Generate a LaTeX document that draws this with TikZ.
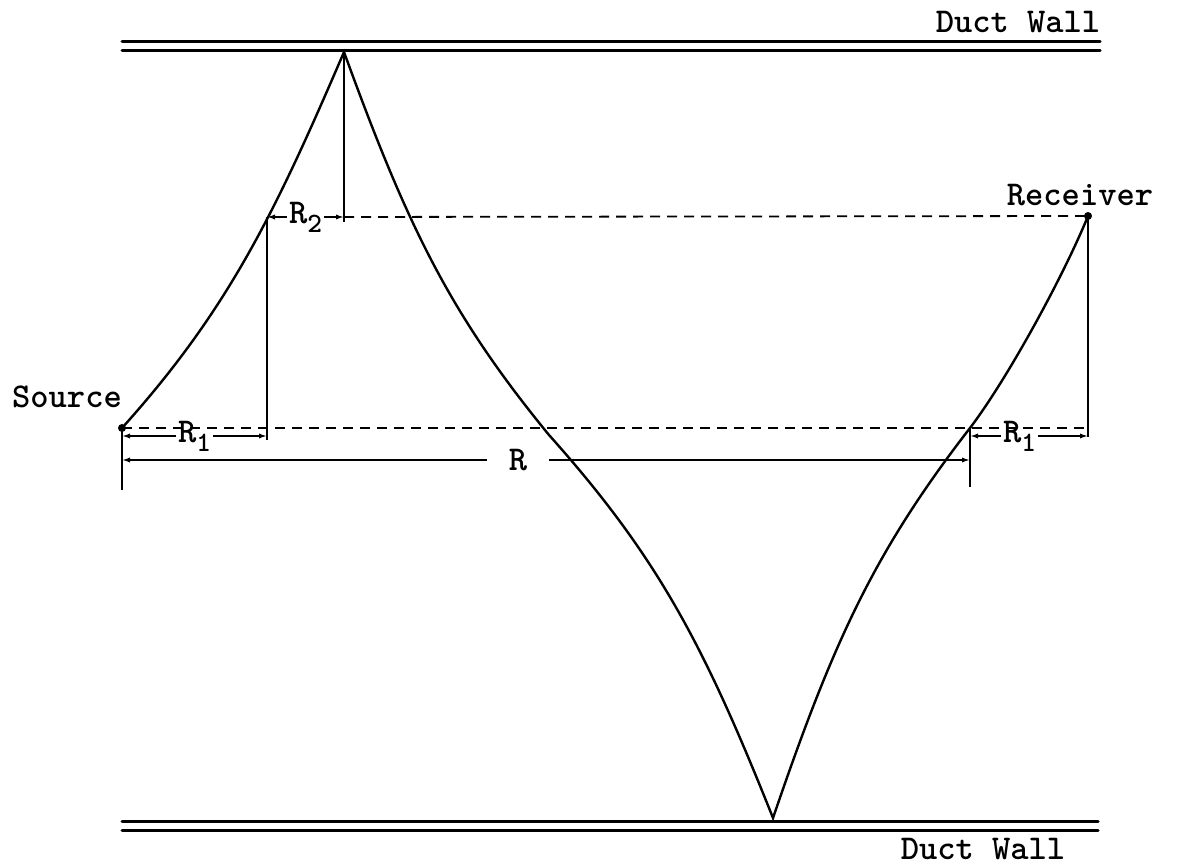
\documentclass[tikz,border=0pt]{standalone}
\usepackage{fontspec}
\usetikzlibrary{arrows.meta}

\tikzset{
  ray/.style={line width=1.2pt},
  wall/.style={line width=1.5pt, line cap=round},
  guide/.style={line width=0.9pt, dash pattern=on 5pt off 3.5pt},
  extline/.style={line width=0.9pt},
  dimline/.style={line width=0.8pt, {Latex[length=4pt,width=2.6pt]}-{Latex[length=4pt,width=2.6pt]}},
  dimlabel/.style={fill=white, inner sep=1pt},
}
\newcommand{\lowidx}[1]{\raisebox{-0.6ex}{\fontsize{14}{14}\selectfont #1}}

\begin{document}
\begin{tikzpicture}[x=0.5pt, y=-0.5pt, font=\ttfamily\bfseries\fontsize{17.4}{20}\selectfont]
\useasboundingbox (0,0) rectangle (1177,865);

% Points on the ray
\coordinate (src) at (122,428);
\coordinate (footL) at (267,217);
\coordinate (apexT) at (344,52);
\coordinate (crossL) at (549,435);
\coordinate (apexB) at (773,818);
\coordinate (crossR) at (970,428);
\coordinate (rcv) at (1088,216);

% Duct walls
\foreach \y in {42,51} {
  \draw[wall] (122,\y) -- (1100,\y);
}
\foreach \y in {821,830} {
  \draw[wall] (122,\y) -- (1098,\y);
}
\node (wallT) at (1018,22) {Duct Wall};
\node (wallB) at (983,849) {Duct Wall};

% Source and receiver
\fill (src) circle (2pt);
\fill (rcv) circle (2pt);
\node (srcText) at (67,397) {Source};
\node (rcvText) at (1080,195) {Receiver};

% Ray path
\draw[ray] (src) .. controls (230,308) and (276,210) .. (apexT)
  .. controls (407,225) and (449,313) .. (crossL)
  .. controls (658,557) and (704,645) .. (apexB)
  .. controls (833,642) and (874,552) .. (crossR)
  .. controls (1008,378) and (1064,275) .. (rcv);

% Extension lines
\draw[extline] (apexT) -- (apexT |- 0,222);
\draw[extline] (footL) -- (footL |- 0,440);
\draw[extline] (src) -- (src |- 0,490);
\draw[extline] (crossR) -- (crossR |- 0,487);
\draw[extline] (rcv) -- (rcv |- 0,437);

% Dimensions
\draw[dimline] (footL) -- node[dimlabel] {R\lowidx{2}} (apexT |- footL);
\draw[dimline] (src |- 0,436) -- node[dimlabel] {R\lowidx{1}} (footL |- 0,436);
\draw[dimline] (crossR |- 0,436) -- node[dimlabel, pos=0.42] {R\lowidx{1}} (rcv |- 0,436);
\draw[dimline] (src |- 0,460) -- node[dimlabel, pos=0.467, inner xsep=11pt] {R} (crossR |- 0,460);

% Dashed guides
\draw[guide] (src) -- (rcv |- src);
\draw[guide] (apexT |- footL) -- (rcv);

\end{tikzpicture}
\end{document}
